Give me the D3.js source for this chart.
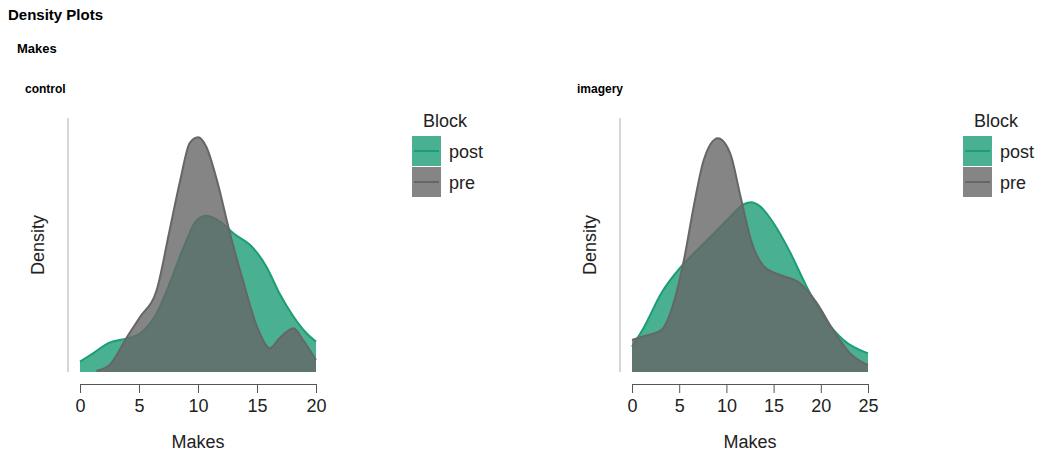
<!DOCTYPE html>
<html>
<head>
<meta charset="utf-8">
<script src="https://cdn.jsdelivr.net/npm/d3@7"></script>
<style>
  body { margin: 0; background: #fff; font-family: "Liberation Sans", Arial, sans-serif; }
</style>
</head>
<body>
<script>
// Estimated density curves (x = Makes, y = density)
var blocks = ["post", "pre"];
var blockColors = ["#1b9e77", "#666666"];

var controlPostX = [0, 1.1, 2.5, 4.0, 5.1, 6.5, 7.6, 8.8, 9.9, 10.7, 11.9, 13.0, 14.7, 15.8, 16.9, 18.1, 19.2, 20];
var controlPostY = [0.0081, 0.0147, 0.0231, 0.0265, 0.0305, 0.0462, 0.0698, 0.0987, 0.1197, 0.1231, 0.1183, 0.1092, 0.0974, 0.0829, 0.0620, 0.0435, 0.0305, 0.0239];

var controlPreX = [1.4, 2.5, 4.0, 5.1, 6.5, 7.6, 8.5, 9.3, 10.0, 10.7, 11.6, 12.7, 13.8, 15.0, 16.1, 16.9, 18.1, 18.9, 20];
var controlPreY = [0.001, 0.0055, 0.0278, 0.0435, 0.0646, 0.1118, 0.1512, 0.1803, 0.1848, 0.1774, 0.1512, 0.1094, 0.0724, 0.0357, 0.0187, 0.0265, 0.0344, 0.0252, 0.0094];

var imageryPostX = [0, 1.3, 3.1, 5.2, 6.9, 8.7, 10.4, 11.9, 12.6, 13.6, 15.0, 16.8, 18.5, 20.3, 22.4, 25];
var imageryPostY = [0.0199, 0.0357, 0.0620, 0.0829, 0.0961, 0.1092, 0.1223, 0.1323, 0.1336, 0.1302, 0.1171, 0.0935, 0.0672, 0.0435, 0.0252, 0.0147];

var imageryPreX = [0, 1.3, 3.1, 4.5, 5.5, 6.6, 7.6, 9.1, 10.4, 11.5, 12.6, 14.0, 15.7, 17.8, 19.6, 21.3, 23.1, 25];
var imageryPreY = [0.0252, 0.0283, 0.0331, 0.0567, 0.0882, 0.1328, 0.1669, 0.1840, 0.1722, 0.1380, 0.1039, 0.0829, 0.0764, 0.0698, 0.0541, 0.0331, 0.0147, 0.0055];

var controlTicks = [0, 5, 10, 15, 20];
var imageryTicks = [0, 5, 10, 15, 20, 25];

var svg = d3.select("body").append("svg")
  .attr("width", 1037)
  .attr("height", 452);

svg.append("text").text("Density Plots")
  .attr("x", 8).attr("y", 20)
  .attr("font-size", 15).attr("font-weight", "bold");
svg.append("text").text("Makes")
  .attr("x", 17).attr("y", 53)
  .attr("font-size", 13).attr("font-weight", "bold");

var color = d3.scaleOrdinal().domain(blocks).range(blockColors);

function drawPanel(opts) {
  var g = svg.append("g").attr("transform", `translate(${opts.left}, 0)`);

  g.append("text").text(opts.title)
    .attr("x", 25).attr("y", 93)
    .attr("font-size", 12).attr("font-weight", "bold");

  var xScale = d3.scaleLinear().domain(opts.domain).range([80, 316]);
  var yScale = d3.scaleLinear().domain([0, 0.2]).range([372, 118]);

  // y axis line only (no ticks)
  g.append("line")
    .attr("x1", 68).attr("x2", 68)
    .attr("y1", 118).attr("y2", 372)
    .attr("stroke", "#c8c8c8").attr("stroke-width", 1.5);

  var area = d3.area()
    .x((d) => xScale(d[0]))
    .y0(yScale(0))
    .y1((d) => yScale(d[1]))
    .curve(d3.curveMonotoneX);
  var line = d3.line()
    .x((d) => xScale(d[0]))
    .y((d) => yScale(d[1]))
    .curve(d3.curveMonotoneX);

  opts.series.forEach((s) => {
    var pts = s.x.map((v, i) => [v, s.y[i]]);
    g.append("path").datum(pts)
      .attr("d", area)
      .attr("fill", color(s.block))
      .attr("fill-opacity", 0.8);
    g.append("path").datum(pts)
      .attr("d", line)
      .attr("fill", "none")
      .attr("stroke", color(s.block))
      .attr("stroke-width", 2);
  });

  var bottomAxis = d3.axisBottom(xScale).tickValues(opts.ticks).tickSize(9).tickPadding(6);
  var xAxis = g.append("g")
    .attr("transform", "translate(0, 384)")
    .call(bottomAxis);
  xAxis.select(".domain").attr("stroke", "#555").attr("stroke-width", 1);
  xAxis.selectAll(".tick line").attr("stroke", "#555");
  xAxis.selectAll(".tick text")
    .attr("font-family", "Liberation Sans, Arial, sans-serif")
    .attr("font-size", 18).attr("fill", "#222");

  g.append("text").text("Makes")
    .attr("x", 198).attr("y", 448)
    .attr("text-anchor", "middle").attr("font-size", 18).attr("fill", "#222");

  g.append("text").text("Density")
    .attr("transform", "translate(44, 245) rotate(-90)")
    .attr("text-anchor", "middle").attr("font-size", 18).attr("fill", "#222");

  // legend
  var lg = g.append("g").attr("transform", `translate(${opts.legendX}, 0)`);
  lg.append("text").text("Block")
    .attr("x", 11).attr("y", 127).attr("font-size", 18).attr("fill", "#222");
  blocks.forEach((b, i) => {
    var y0 = 136 + i * 31;
    lg.append("rect")
      .attr("x", 0).attr("y", y0).attr("width", 29).attr("height", 30)
      .attr("fill", color(b)).attr("fill-opacity", 0.8);
    lg.append("line")
      .attr("x1", 2).attr("x2", 27).attr("y1", y0 + 15).attr("y2", y0 + 15)
      .attr("stroke", color(b)).attr("stroke-width", 2);
    lg.append("text").text(b)
      .attr("x", 37).attr("y", y0 + 22).attr("font-size", 18).attr("fill", "#222");
  });
}

drawPanel({
  left: 0, title: "control", domain: [0, 20],
  ticks: controlTicks, legendX: 412,
  series: [
    { block: "post", x: controlPostX, y: controlPostY },
    { block: "pre", x: controlPreX, y: controlPreY },
  ],
});

drawPanel({
  left: 552, title: "imagery", domain: [0, 25],
  ticks: imageryTicks, legendX: 411,
  series: [
    { block: "post", x: imageryPostX, y: imageryPostY },
    { block: "pre", x: imageryPreX, y: imageryPreY },
  ],
});
</script>
</body>
</html>
